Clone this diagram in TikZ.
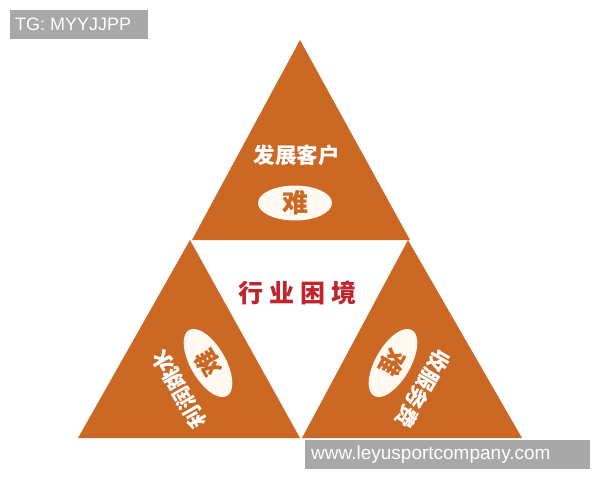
\documentclass[tikz,border=0pt]{standalone}
\usepackage{fontspec}
\setmainfont{Liberation Sans}
\newfontfamily\cjk{Noto Sans CJK SC}
\usetikzlibrary{shapes.geometric}
\definecolor{tri}{RGB}{202,104,36}
\definecolor{cream}{RGB}{255,249,241}
\definecolor{redtxt}{RGB}{190,38,44}
\definecolor{wmgray}{RGB}{168,168,168}
\tikzset{
  tripart/.style={fill=tri},
  oval/.style={ellipse, fill=cream, minimum width=74pt, minimum height=31pt, inner sep=0pt, text=tri, font=\cjk\bfseries\fontsize{26}{26}\selectfont},
  sideoval/.style={oval, minimum width=76pt, minimum height=35pt},
  sidetext/.style={text=white, inner sep=0pt, font=\cjk\bfseries\fontsize{21.5}{21.5}\selectfont},
  centertext/.style={text=redtxt, inner sep=0pt, font=\cjk\bfseries\fontsize{25}{25}\selectfont},
  wmbox/.style={fill=wmgray, inner sep=0pt},
  wmtext/.style={text=white, inner sep=0pt},
}
\begin{document}
\begin{tikzpicture}[x=1pt,y=-1pt]
\useasboundingbox (0,0) rectangle (600,480);
\fill[white] (0,0) rectangle (600,480);
% triangles
\fill[tripart] (300,40) -- (192,240) -- (410,240) -- cycle;
\fill[tripart] (190,240) -- (78,438) -- (300,438) -- cycle;
\fill[tripart] (408,240) -- (302,438) -- (522,438) -- cycle;
% top
\node[sidetext] (ttop) at (296.5,155) {发展客户};
\node[oval] (otop) at (295,203) {难};
% centre
\node[centertext] (center) at (297.5,293) {行\hspace{6pt}业\hspace{6pt}困\hspace{6pt}境};
% left
\node[sideoval, rotate=120] (oleft) at (208,363) {难};
\node[sidetext, rotate=120] (tleft) at (179,389) {利润跳水};
% right
\node[sideoval, rotate=-120] (oright) at (393,363) {难};
\node[sidetext, rotate=-120] (tright) at (423,389) {收服务费};
% watermarks
\node[wmbox, anchor=north west, minimum width=138pt, minimum height=29pt] (tg) at (10,10) {};
\node[wmtext, anchor=west, font=\fontsize{18}{18}\selectfont] (tgt) at ([xshift=5pt]tg.west) {TG: MYYJJPP};
\node[wmbox, anchor=north west, minimum width=285pt, minimum height=29pt] (url) at (305,440) {};
\node[wmtext, anchor=west, font=\fontsize{19}{19}\selectfont] (urlt) at ([xshift=6pt]url.west) {www.leyusportcompany.com};
\end{tikzpicture}
\end{document}
